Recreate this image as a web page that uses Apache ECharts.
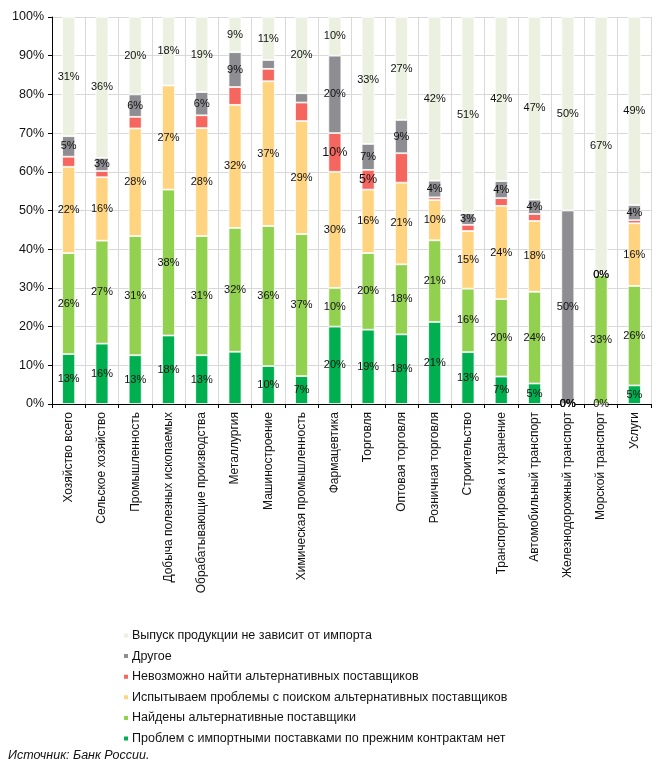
<!DOCTYPE html>
<html>
<head>
<meta charset="utf-8">
<script src="https://cdn.jsdelivr.net/npm/echarts@6/dist/echarts.min.js"></script>
<style>html,body{margin:0;padding:0;background:#fff}#c{width:667px;height:774px}</style>
</head>
<body>
<div id="c"></div>
<script>
const categories = ['Хозяйство всего','Сельское хозяйство','Промышленность','Добыча полезных ископаемых','Обрабатывающие производства','Металлургия','Машиностроение','Химическая промышленность','Фармацевтика','Торговля','Оптовая торговля','Розничная торговля','Строительство','Транспортировка и хранение','Автомобильный транспорт','Железнодорожный транспорт','Морской транспорт','Услуги'];
const seriesNames = ['Проблем с импортными поставками по прежним контрактам нет','Найдены альтернативные поставщики','Испытываем проблемы с поиском альтернативных поставщиков','Невозможно найти альтернативных поставщиков','Другое','Выпуск продукции не зависит от импорта'];
const noProblems   = [12.9,15.6,12.6,17.7,12.6,13.5,9.8,7.2,20,19.2,18,21.2,13.4,7.1,5.3,0,0,4.8];
const foundAlt     = [26.1,26.6,30.8,37.7,30.8,32,36.2,36.7,10,19.8,18.1,21.1,16.4,20,23.7,0,33.3,25.7];
const searchProb   = [22.3,16.4,27.8,26.9,27.9,31.8,37.4,29.2,30,16.4,21.1,10.4,14.9,24.1,18.3,0,0,16.2];
const cannotFind   = [2.6,1.6,3,null,3.3,4.6,3.2,4.8,10,5.1,7.6,0.7,1.6,2,1.8,0,0,0.8];
const other        = [5.3,3.4,5.8,null,6,9,2.3,2.4,20,6.7,8.6,4.3,3,4.4,3.7,50,0,3.9];
const noImport     = [30.8,36.4,20,17.7,19.4,9.1,11.1,19.7,10,32.8,26.6,42.3,50.7,42.4,47.2,50,66.7,48.6];
const yTicks = ['0%','10%','20%','30%','40%','50%','60%','70%','80%','90%','100%'];
const allValues = [noProblems, foundAlt, searchProb, cannotFind, other, noImport];
const colors = ['#00B050','#92D050','#FFD480','#F5665E','#8E8D92','#ECF0E0'];
// labels hidden in the original
const redLabelCats = ['Фармацевтика','Торговля'];
const hidden = {0:['Металлургия'], 4:['Машиностроение','Химическая промышленность']};

const series = allValues.map((vals, si) => ({
  name: seriesNames[si],
  type: 'bar',
  stack: 'total',
  barWidth: 13,
  itemStyle: {color: colors[si], borderColor: '#ffffff', borderWidth: 0.8},
  label: {
    show: true, position: 'inside', fontFamily: 'Liberation Sans', fontSize: 11, color: '#111',
    textBorderWidth: 0, textBorderColor: 'transparent',
    formatter: p => Math.round(p.value) + '%'
  },
  data: vals.map((v, ci) => {
    const cat = categories[ci];
    let show = v !== null;
    if (si === 3) show = redLabelCats.includes(cat);
    if (hidden[si] && hidden[si].includes(cat)) show = false;
    const item = {value: v, label: {show: show}};
    if (si === 3 && show) item.label.fontSize = 12.5;
    return item;
  })
}));

const chart = echarts.init(document.getElementById('c'), null, {renderer: 'canvas'});
chart.setOption({
  animation: false,
  textStyle: {fontFamily: 'Liberation Sans'},
  grid: {left: 52, right: 16, top: 17, bottom: 370},
  xAxis: {
    type: 'category', data: categories,
    axisLine: {lineStyle: {color: '#000', width: 1}},
    axisTick: {show: true, length: 4, lineStyle: {color: '#000'}},
    splitLine: {show: true, lineStyle: {color: '#d9d9d9', width: 1}},
    axisLabel: {rotate: 90, interval: 0, fontSize: 12, color: '#111', margin: 8, fontFamily: 'Liberation Sans'}
  },
  yAxis: {
    type: 'value', min: 0, max: 100, interval: 10,
    axisLine: {show: true, lineStyle: {color: '#000', width: 1}},
    axisTick: {show: true, length: 4, lineStyle: {color: '#000'}},
    splitLine: {show: true, lineStyle: {color: '#d9d9d9', width: 1}},
    axisLabel: {fontSize: 12.5, color: '#111', margin: 8, fontFamily: 'Liberation Sans',
      formatter: v => yTicks[Math.round(v / 10)]}
  },
  legend: {
    orient: 'vertical', left: 117, top: 624,
    data: seriesNames.slice().reverse(),
    icon: 'rect', itemWidth: 6, itemHeight: 6, itemGap: 7.6,
    textStyle: {fontSize: 12.5, color: '#111', fontFamily: 'Liberation Sans', padding: [0,0,0,-2]}
  },
  graphic: [{
    type: 'text', left: 8, top: 749,
    style: {text: 'Источник: Банк России.', font: 'italic 12.5px "Liberation Sans"', fill: '#111'}
  }],
  series: series
});
</script>
</body>
</html>
